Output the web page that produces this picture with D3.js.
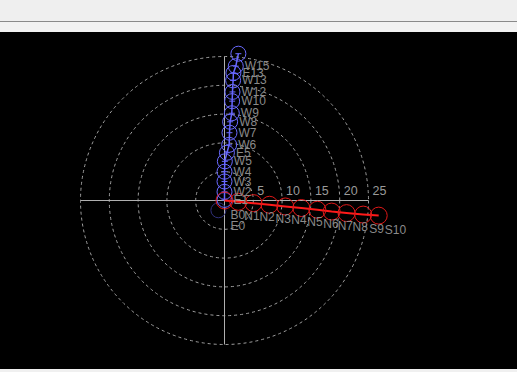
<!DOCTYPE html>
<meta charset="utf-8">
<script src="https://d3js.org/d3.v7.min.js"></script>
<style>
  body { margin: 0; background: #f0f0f0; overflow: hidden; }
</style>
<div id="chart"></div>
<script>

// ring ticks (radius units)
var ringTicks = [5, 10, 15, 20, 25];

// blue series: radius and angle (degrees, clockwise from up)
var blueLabels = ["E1", "W2", "W3", "W4", "W5", "E5", "W6", "W7", "W8", "W9", "W10", "W12", "W13", "E13", "W15", ""];
var blueR      = [0.1, 1.5, 3.3, 5.0, 6.8, 8.3, 9.7, 11.8, 13.7, 15.2, 17.3, 18.9, 20.9, 22.2, 23.4, 25.6];
var blueAngle  = [0, 0, 0, 0, 0.5, 2.9, 4.8, 4.2, 4.1, 4.8, 4.4, 4.2, 4.1, 4.0, 4.8, 5.4];

// faint blue points off the line
var faintLabels = ["E0"];
var faintR      = [2.0];
var faintAngle  = [212];

// red series
var redLabels = ["B0", "N1", "N2", "N3", "N4", "N5", "N6", "N7", "N8", "S9", "S10"];
var redR      = [0, 2.4, 5.05, 7.85, 10.6, 13.4, 16.2, 18.7, 21.3, 24.2, 26.9];
var redAngle  = [95.5, 95.5, 95.2, 95.4, 95.6, 95.6, 95.7, 95.9, 95.9, 95.8, 95.6];

var width = 517, height = 372;
var cx = 224.5, cy = 200.5, outer = 144;

var svg = d3.select("#chart")
  .append("svg")
    .attr("width", width)
    .attr("height", height)
    .style("display", "block");

// window chrome on top
svg.append("rect").attr("x", 0).attr("y", 0).attr("width", width).attr("height", 21).style("fill", "#efefef");
svg.append("rect").attr("x", 0).attr("y", 21).attr("width", width).attr("height", 1).style("fill", "#8a8a8a");
svg.append("rect").attr("x", 0).attr("y", 22).attr("width", width).attr("height", 10).style("fill", "#f2f2f2");
svg.append("rect").attr("x", 0).attr("y", 32).attr("width", width).attr("height", 337).style("fill", "#000");

var r = d3.scaleLinear().domain([0, 25]).range([0, outer]);

var g = svg.append("g").attr("transform", "translate(" + cx + "," + cy + ")");

// dashed rings
g.selectAll(".ring")
  .data(ringTicks)
  .enter()
  .append("circle")
    .attr("r", function (d) { return r(d); })
    .style("fill", "none")
    .style("stroke", "#a0a0a0")
    .style("stroke-width", 1)
    .style("stroke-dasharray", "3,3");

// axes
g.append("line").attr("x1", -r(25)).attr("x2", r(25)).attr("y1", 0).attr("y2", 0).style("stroke", "#b0b0b0");
g.append("line").attr("x1", 0).attr("x2", 0).attr("y1", -r(25)).attr("y2", r(25)).style("stroke", "#b0b0b0");

// ring labels
g.selectAll(".tick")
  .data(ringTicks)
  .enter()
  .append("text")
    .attr("x", function (d) { return r(d) + 4; })
    .attr("y", -6)
    .text(function (d) { return d; })
    .style("font-family", "Liberation Sans, Arial")
    .style("font-size", "12.5px")
    .style("fill", "#9a9a9a");

function toPoints(labels, rs, angles) {
  return labels.map(function (l, i) {
    var p = d3.pointRadial(angles[i] * Math.PI / 180, r(rs[i]));
    return { label: l, x: p[0], y: p[1] };
  });
}

var blue = toPoints(blueLabels, blueR, blueAngle);
var faint = toPoints(faintLabels, faintR, faintAngle);
var red = toPoints(redLabels, redR, redAngle);

var line = d3.line().x(function (d) { return d.x; }).y(function (d) { return d.y; });

// faint points
g.selectAll(".faint")
  .data(faint)
  .enter()
  .append("circle")
    .attr("cx", function (d) { return d.x; })
    .attr("cy", function (d) { return d.y; })
    .attr("r", 7.5)
    .style("fill", "none")
    .style("stroke", "#30307a");

// blue series
g.append("path").datum(blue).attr("d", line)
  .style("fill", "none").style("stroke", "#6666ff").style("stroke-width", 1.5);
g.selectAll(".bdot")
  .data(blue)
  .enter()
  .append("circle")
    .attr("cx", function (d) { return d.x; })
    .attr("cy", function (d) { return d.y; })
    .attr("r", 7.5)
    .style("fill", "none")
    .style("stroke", "#6a6aff");
g.selectAll(".btick")
  .data(blue)
  .enter()
  .append("line")
    .attr("x1", function (d) { return d.x - 3; })
    .attr("x2", function (d) { return d.x + 3; })
    .attr("y1", function (d) { return d.y; })
    .attr("y2", function (d) { return d.y; })
    .style("stroke", "#6a6aff");

// red series
g.append("path").datum(red).attr("d", line)
  .style("fill", "none").style("stroke", "#ff1a1a").style("stroke-width", 2);
g.selectAll(".rdot")
  .data(red)
  .enter()
  .append("circle")
    .attr("cx", function (d) { return d.x; })
    .attr("cy", function (d) { return d.y; })
    .attr("r", 8.5)
    .style("fill", "none")
    .style("stroke", "#e01818");

// labels
g.selectAll(".blabel")
  .data(blue)
  .enter()
  .append("text")
    .attr("x", function (d) { return d.x + 9; })
    .attr("y", function (d) { return d.y + 4; })
    .text(function (d) { return d.label; })
    .style("font-family", "Liberation Sans, Arial")
    .style("font-size", "12px")
    .style("fill", "#8a8a8a");

g.selectAll(".flabel")
  .data(faint)
  .enter()
  .append("text")
    .attr("x", function (d) { return d.x + 12; })
    .attr("y", function (d) { return d.y + 20; })
    .text(function (d) { return d.label; })
    .style("font-family", "Liberation Sans, Arial")
    .style("font-size", "12px")
    .style("fill", "#8a8a8a");

g.selectAll(".rlabel")
  .data(red)
  .enter()
  .append("text")
    .attr("x", function (d) { return d.x + 6; })
    .attr("y", function (d) { return d.y + 18; })
    .text(function (d) { return d.label; })
    .style("font-family", "Liberation Sans, Arial")
    .style("font-size", "12px")
    .style("fill", "#8a8a8a");

</script>
